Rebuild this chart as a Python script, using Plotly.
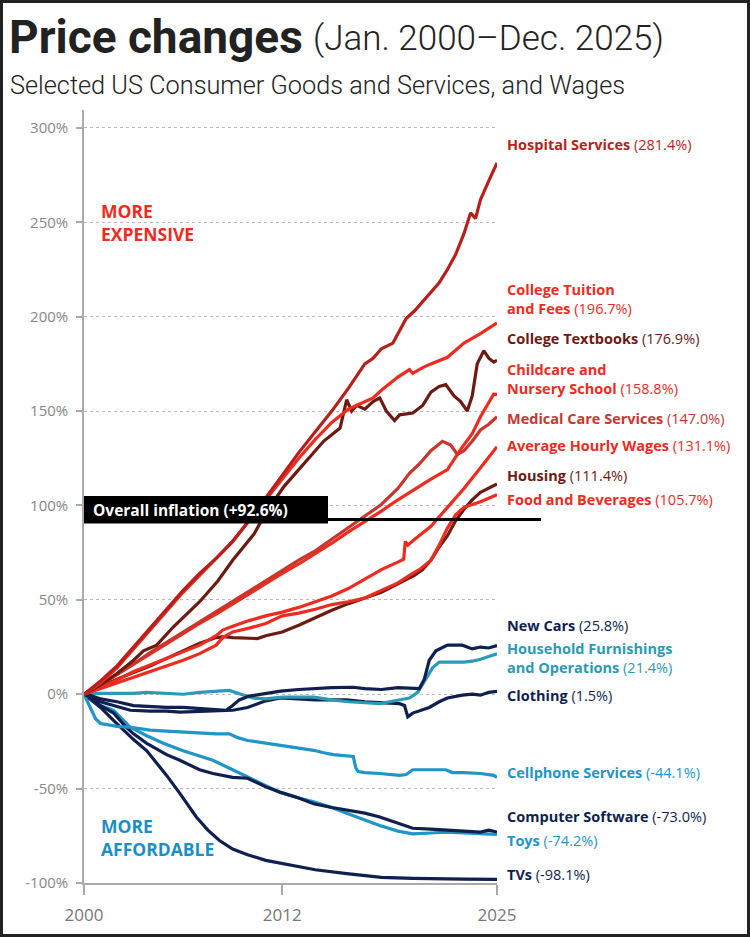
import plotly.graph_objects as go

# ---- data (percent change since Jan. 2000) ----
hospital_x = [2000, 2001, 2002, 2003, 2004, 2005, 2006, 2007, 2008, 2009, 2010, 2011, 2012, 2013, 2014, 2015,
              2016, 2017, 2017.5, 2018, 2018.7, 2019, 2019.5, 2020, 2020.5, 2021, 2021.5, 2022, 2022.5, 2023,
              2023.4, 2023.7, 2024, 2024.5, 2025]
hospital_y = [0, 7, 15, 25, 35, 45, 55, 64, 72, 81, 92, 104, 116, 128, 139, 150,
              162, 175, 178, 183, 186, 191, 199, 203, 208, 213, 218, 225, 233, 244,
              255, 252, 262, 272, 281.4]

tuition_x = [2000, 2001, 2002, 2003, 2004, 2005, 2006, 2007, 2008, 2009, 2010, 2011, 2012, 2013, 2014, 2015,
             2016, 2017, 2017.5, 2018, 2019, 2019.7, 2019.9, 2020.5, 2021, 2022, 2022.6, 2023, 2024, 2024.5, 2025]
tuition_y = [0, 6, 14, 24, 34, 44, 54, 63, 72, 81, 92, 103, 114, 125, 135, 144,
             151, 155, 157, 161, 168, 172, 170, 173, 175, 178.5, 183, 186, 191, 194, 196.7]

textbooks_x = [2000, 2001, 2002, 2003, 2003.6, 2004.4, 2005.4, 2006.3, 2007, 2008.1, 2009, 2010.3, 2011, 2012.1,
               2013, 2013.9, 2014.5, 2015.5, 2015.9, 2016.2, 2016.5, 2017, 2017.5, 2017.9, 2018.3, 2018.8,
               2019.1, 2019.9, 2020.5, 2021, 2021.5, 2021.9, 2022.4, 2022.8, 2023.2, 2023.5, 2023.7, 2023.8,
               2024.2, 2024.5, 2024.8, 2025]
textbooks_y = [0, 5, 11, 18, 23, 26, 35.6, 43, 49, 60, 71, 85, 96, 110,
               119, 128, 134, 141, 156, 150, 153, 151, 155, 157, 150, 145,
               148, 149, 153, 160, 163, 164, 158, 155, 150, 158, 168, 175,
               182, 178, 176, 176.9]

childcare_x = [2000, 2001, 2002, 2003, 2004, 2005, 2006, 2007, 2008, 2009, 2010, 2011, 2012, 2013, 2014, 2015,
               2016, 2017, 2018, 2019, 2019.9, 2020.5, 2021, 2022, 2022.9, 2023.5, 2024, 2024.6, 2024.8, 2025]
childcare_y = [0, 5, 10.5, 16, 21.5, 27, 32, 37.5, 42.5, 48, 53, 58.5, 64, 69, 74.5, 80,
               86, 91.5, 97, 103, 108, 111, 114, 119, 131, 138, 147, 156, 159, 158.8]

medical_x = [2000, 2001, 2002, 2003, 2004, 2005, 2006, 2007, 2008, 2009, 2010, 2011, 2012, 2013, 2014, 2015,
             2016, 2017, 2018, 2019, 2019.7, 2020.3, 2021, 2021.7, 2022.2, 2022.6, 2023, 2023.5, 2024, 2024.5, 2025]
medical_y = [0, 5, 10.5, 16, 22, 27.5, 33, 38.5, 44, 49.5, 55, 60, 65.5, 71, 76, 82,
             88, 94, 100.5, 109, 117, 122, 129, 134, 132, 127, 129, 134, 140, 143, 147]

wages_x = [2000, 2001, 2002, 2003, 2004, 2005, 2006, 2007, 2008, 2008.4, 2009, 2010, 2011, 2012, 2013, 2014,
           2015, 2016, 2017, 2018, 2019, 2019.35, 2019.45, 2019.6, 2020, 2021, 2022, 2023, 2024, 2025]
wages_y = [0, 3.5, 7.5, 12, 15.5, 19, 22.5, 26, 31, 34, 36, 39, 41.5, 43.5, 46, 49,
           52, 56, 61, 66, 70, 71.5, 81, 79, 82, 89, 99, 109, 120, 131.1]

housing_x = [2000, 2001, 2002, 2003, 2004, 2005, 2006, 2007, 2008, 2008.5, 2009, 2010, 2010.5, 2011, 2012,
             2013, 2014, 2015, 2016, 2017, 2018, 2019, 2020, 2020.5, 2021, 2021.5, 2022, 2022.5, 2023, 2023.5,
             2024, 2025]
housing_y = [0, 4, 8, 11.5, 15, 19, 23, 27, 30, 30.5, 30, 29.5, 29.5, 31, 33,
             36.5, 40.5, 44.5, 48, 51, 54, 58.5, 63, 66, 71, 78, 84, 92, 98, 103,
             107, 111.4]

food_x = [2000, 2001, 2002, 2003, 2004, 2005, 2006, 2007, 2008, 2008.4, 2009, 2010, 2011, 2012, 2013, 2014,
          2015, 2016, 2017, 2018, 2019, 2019.9, 2020.3, 2021, 2021.5, 2022, 2022.5, 2023, 2024, 2025]
food_y = [0, 3, 6, 9, 12, 15, 18, 21.5, 26, 30, 33, 35, 37.5, 41.5, 43, 45,
          47.5, 49, 51, 55, 59, 64, 66, 71, 79, 88, 95, 99, 102, 105.7]

cars_x = [2000, 2000.5, 2001, 2002, 2003, 2004, 2005, 2006, 2007, 2008, 2008.6, 2009, 2009.4, 2010, 2011,
          2011.9, 2013, 2014, 2015, 2016.3, 2017, 2018, 2019, 2020.3, 2020.6, 2020.9, 2021.3, 2022, 2022.9,
          2023.5, 2024, 2024.5, 2025]
cars_y = [0, -1, -2.5, -4, -6, -6.5, -7, -7, -7.5, -8, -8.5, -6, -3, -1, 0.5,
          1.6, 2.5, 3, 3.5, 3.7, 3, 2.5, 3.5, 3, 8, 18, 23, 26, 26,
          24, 25, 24.5, 25.8]

furnish_x = [2000, 2001, 2002, 2003, 2003.8, 2005, 2006, 2007, 2008, 2008.8, 2009.5, 2010.2, 2011, 2012, 2013,
             2013.9, 2015, 2016, 2017, 2017.9, 2018.5, 2019.1, 2019.7, 2020.2, 2020.7, 2021.1, 2021.5, 2022,
             2023, 2023.5, 2024, 2024.5, 2025]
furnish_y = [0, 0.5, 0.5, 0.5, 1, 0.5, 0, 1, 1.5, 2, 0, -2, -2.5, -1.5, -1.5,
             -1.5, -3, -4, -4.5, -5, -4, -3, -2, 1, 8, 14, 17, 17,
             17, 17.5, 18.5, 20, 21.4]

clothing_x = [2000, 2000.5, 2001, 2002, 2002.8, 2004, 2005, 2005.8, 2007, 2008, 2009, 2009.9, 2010.5, 2011,
              2011.9, 2013, 2014, 2015, 2015.9, 2017, 2018, 2019.1, 2019.4, 2019.6, 2019.9, 2020.5, 2020.9,
              2021.5, 2022, 2022.9, 2023.5, 2024, 2024.5, 2025]
clothing_y = [0, -2, -4, -6.5, -8.5, -9, -9, -9.5, -9, -8.5, -8.5, -7, -5, -3.5,
              -2, -2.5, -3, -3, -3, -4, -4.5, -5, -6, -12, -10, -8, -7,
              -4, -2, -0.5, 0, -0.5, 1, 1.5]

cell_x = [2000, 2000.4, 2000.7, 2001, 2002, 2002.8, 2004, 2005, 2005.8, 2007, 2008, 2008.8, 2009.3, 2009.9,
          2011, 2012, 2013, 2013.9, 2014.5, 2015.1, 2016.3, 2016.45, 2016.6, 2017, 2017.9, 2019.1, 2019.5,
          2019.9, 2021, 2021.9, 2022.3, 2023, 2024, 2024.8, 2025]
cell_y = [0, -7, -13, -15.5, -17, -17.5, -19, -19.5, -20, -20.5, -21, -21, -23, -24.5,
          -26, -27, -28.5, -29.7, -31, -32, -33, -39, -41, -41.5, -42, -43, -42.5,
          -40, -40, -40, -41.5, -41.5, -42, -43, -44.1]

software_x = [2000, 2001, 2001.8, 2002.5, 2003, 2003.8, 2005, 2005.8, 2007, 2007.8, 2009, 2009.9, 2011, 2011.9,
              2013, 2013.9, 2015, 2015.9, 2017, 2017.9, 2019, 2019.9, 2021, 2021.9, 2023, 2024, 2024.5, 2025]
software_y = [0, -6, -10, -17, -21, -26, -32, -35, -40, -42, -44, -44.5, -49, -52,
              -55, -58, -60, -61.5, -63, -65, -68.5, -71, -71.5, -72, -72.5, -73, -72, -73]

toys_x = [2000, 2000.5, 2001, 2001.8, 2002.3, 2002.8, 2003.8, 2004.8, 2006, 2007.8, 2009, 2009.9, 2011, 2011.9,
          2013, 2013.9, 2015, 2015.9, 2017, 2017.9, 2019, 2019.9, 2021, 2021.9, 2023, 2024, 2025]
toys_y = [0, -3, -6, -8.5, -13, -17.5, -22, -26, -30, -35, -40, -44, -48.5, -52,
          -55, -57, -60, -63, -66.5, -69.5, -72.5, -74, -73.5, -73, -73.5, -74, -74.2]

tvs_x = [2000, 2001, 2001.8, 2003, 2003.8, 2005, 2005.8, 2006.3, 2006.8, 2007.5, 2008.2, 2009, 2009.9, 2011,
         2011.9, 2013, 2014, 2015.9, 2017, 2018, 2019.9, 2021, 2023, 2025]
tvs_y = [0, -7, -14, -24, -30, -43, -52.5, -59, -65, -72, -77.5, -82, -85, -88,
         -89.5, -91.5, -93, -95, -96, -97, -97.5, -97.8, -98, -98.1]

overall_inflation = 92.6

names = ["Hospital Services", "College Tuition<br>and Fees", "College Textbooks", "Childcare and<br>Nursery School",
         "Medical Care Services", "Average Hourly Wages", "Housing", "Food and Beverages",
         "New Cars", "Household Furnishings<br>and Operations", "Clothing", "Cellphone Services",
         "Computer Software", "Toys", "TVs"]
changes = ["281.4%", "196.7%", "176.9%", "158.8%", "147.0%", "131.1%", "111.4%", "105.7%",
           "25.8%", "21.4%", "1.5%", "-44.1%", "-73.0%", "-74.2%", "-98.1%"]

y_ticks = [-100, -50, 0, 50, 100, 150, 200, 250, 300]
x_ticks = [2000, 2012, 2025]

# ---- styling ----
RED = "#ee2b1f"
DARKRED = "#b71f1b"
MEDRED = "#c9362e"
MAROON = "#6d1a12"
NAVY = "#0f1f4f"
TEAL = "#2a9ab6"
BLUE = "#1f95c9"

series = [
    (tvs_x, tvs_y, NAVY), (toys_x, toys_y, BLUE), (software_x, software_y, NAVY),
    (cell_x, cell_y, BLUE), (clothing_x, clothing_y, NAVY), (furnish_x, furnish_y, TEAL),
    (cars_x, cars_y, NAVY),
    (housing_x, housing_y, MAROON), (food_x, food_y, RED), (wages_x, wages_y, RED),
    (childcare_x, childcare_y, RED), (medical_x, medical_y, MEDRED),
    (textbooks_x, textbooks_y, MAROON), (tuition_x, tuition_y, RED), (hospital_x, hospital_y, DARKRED),
]
label_colors = [DARKRED, RED, MAROON, RED, MEDRED, RED, MAROON, RED,
                NAVY, TEAL, NAVY, BLUE, NAVY, BLUE, NAVY]
label_pos = [291, 209.5, 188.5, 167, 146, 132, 116, 103,
             36.5, 19, -0.5, -41.5, -65, -77.5, -95.5]

Y_MIN, Y_MAX = -100, 309.5
FONT = "Roboto"
LFONT = "Open Sans"


def px_x(p):
    return (p - 84) / 413


def px_y(p):
    return (883 - p) / 773


def val_y(v):
    return (v - Y_MIN) / (Y_MAX - Y_MIN)


fig = go.Figure()
for xs, ys, col in series:
    fig.add_trace(go.Scatter(x=xs, y=ys, mode="lines", line=dict(color=col, width=3.2),
                             hoverinfo="skip", showlegend=False))

annotations = []
for name, ch, col, yp in zip(names, changes, label_colors, label_pos):
    annotations.append(dict(
        x=px_x(505), xref="paper", y=yp, yref="y", xanchor="left", yanchor="middle", align="left",
        text="<b>" + name + "</b> (" + ch + ")", showarrow=False,
        font=dict(family=LFONT, size=14.5, color=col)))

annotations += [
    dict(x=px_x(7), y=px_y(37), xref="paper", yref="paper", xanchor="left", yanchor="middle",
         text="<b>Price changes</b>", showarrow=False, font=dict(family=FONT, size=46, color="#222")),
    dict(x=px_x(311), y=px_y(38), xref="paper", yref="paper", xanchor="left", yanchor="middle",
         text="(Jan. 2000–Dec. 2025)", showarrow=False,
         font=dict(family=FONT, size=35, color="#222", weight=300)),
    dict(x=px_x(8), y=px_y(85), xref="paper", yref="paper", xanchor="left", yanchor="middle",
         text="Selected US Consumer Goods and Services, and Wages", showarrow=False,
         font=dict(family=FONT, size=25.3, color="#222", weight=300)),
    dict(x=px_x(99), y=250, xref="paper", yref="y", xanchor="left", yanchor="middle", align="left",
         text="<b>MORE<br>EXPENSIVE</b>", showarrow=False, font=dict(family=LFONT, size=17.5, color=RED)),
    dict(x=px_x(99), y=-76, xref="paper", yref="y", xanchor="left", yanchor="middle", align="left",
         text="<b>MORE<br>AFFORDABLE</b>", showarrow=False,
         font=dict(family=LFONT, size=17.5, color="#1a8fc6")),
    dict(x=px_x(91), y=val_y(97.8), xref="paper", yref="paper", xanchor="left", yanchor="middle",
         text="<b>Overall inflation (+92.6%)</b>", showarrow=False,
         font=dict(family=LFONT, size=15.5, color="white")),
]

shapes = [
    dict(type="rect", xref="paper", yref="paper", x0=0, x1=px_x(328),
         y0=val_y(overall_inflation - 2.2), y1=val_y(overall_inflation + 12.4),
         fillcolor="black", line=dict(width=0), layer="above"),
    dict(type="line", xref="paper", yref="paper", x0=0, x1=px_x(541),
         y0=val_y(overall_inflation), y1=val_y(overall_inflation),
         line=dict(color="black", width=3), layer="above"),
    dict(type="rect", xref="paper", yref="paper", x0=px_x(1.5), x1=px_x(748.5),
         y0=px_y(935.5), y1=px_y(1.5), line=dict(color="#222", width=3), layer="above"),
]

fig.update_layout(
    width=750, height=937,
    margin=dict(l=84, r=253, t=110, b=54),
    paper_bgcolor="white", plot_bgcolor="white",
    annotations=annotations, shapes=shapes,
    xaxis=dict(range=[2000, 2025], tickvals=x_ticks, ticktext=[str(v) for v in x_ticks],
               showgrid=False, zeroline=False, showline=True, linecolor="#aaa", linewidth=1.5,
               ticks="outside", ticklen=10, tickcolor="#aaa", tickwidth=1.5, ticklabelstandoff=6,
               tickfont=dict(family=LFONT, size=17, color="#777")),
    yaxis=dict(range=[Y_MIN, Y_MAX], tickvals=y_ticks, ticktext=[f"{v}%" for v in y_ticks],
               showgrid=True, gridcolor="#bbb", griddash="dot", gridwidth=1, zeroline=False,
               showline=True, linecolor="#aaa", linewidth=1.5,
               ticks="outside", ticklen=6, tickcolor="#aaa", tickwidth=1.5, ticklabelstandoff=5,
               tickfont=dict(family=LFONT, size=15, color="#888")),
)

# the page has an 8px body margin by default; drop it so the figure fills the window
fig.write_html("out.html", config={"displayModeBar": False},
               post_script="document.body.style.margin='0';")
